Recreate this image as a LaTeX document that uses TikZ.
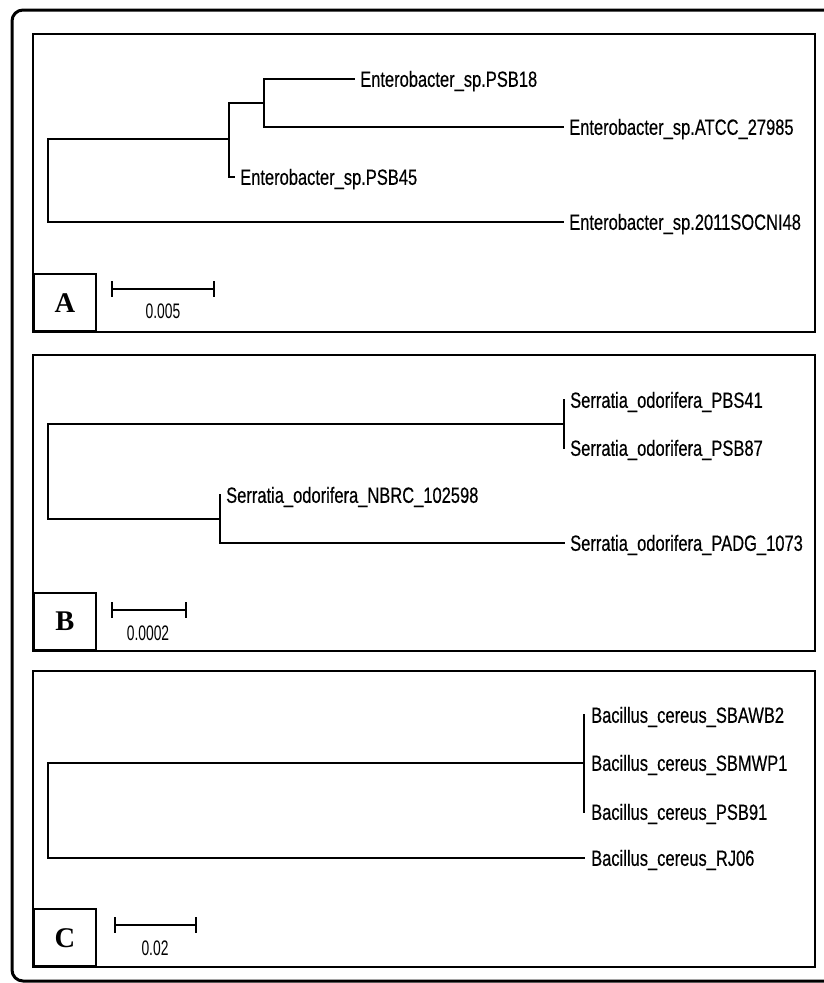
\documentclass[tikz,border=0pt]{standalone}
\usepackage{fontspec}
\newfontfamily\labfont[FakeStretch=0.75,FakeBold=0.4]{Liberation Sans}
\newfontfamily\barfont[FakeStretch=0.66]{Liberation Sans}
\newfontfamily\panelfont{Liberation Serif}
\tikzset{
  branch/.style={line width=1.5pt, line cap=rect},
  leaf/.style={anchor=west, inner xsep=6pt, inner ysep=0pt, text height=15.6pt, text depth=0pt,
    font=\labfont\fontsize{22}{24}\selectfont},
  panelbox/.style={draw, line width=1.6pt},
  letterbox/.style={draw, line width=1.6pt, anchor=south west, minimum width=62pt, minimum height=57pt,
    inner sep=0pt, font=\panelfont\bfseries\fontsize{28.5}{30}\selectfont},
  scalebar/.style={line width=1.5pt},
  scalelab/.style={inner sep=0pt, font=\barfont\fontsize{21}{22}\selectfont}
}
\begin{document}
\begin{tikzpicture}[x=1pt,y=1pt]
\useasboundingbox (0,0) rectangle (824,-983);
% outer frame
\draw[line width=3pt, rounded corners=11pt] (12,-10) rectangle (850,-981);
% panels
\draw[panelbox] (33,-34) rectangle (815,-332);
\draw[panelbox] (33,-355) rectangle (815,-651);
\draw[panelbox] (33,-671) rectangle (815,-967);
\node[letterbox] (labA) at (33,-332) {A};
\node[letterbox] (labB) at (33,-651) {B};
\node[letterbox] (labC) at (33,-967) {C};

% ---------- Tree A ----------
\node[leaf] (a18) at (354,-79) {Enterobacter\_sp.PSB18};
\node[leaf] (a27985) at (563,-127) {Enterobacter\_sp.ATCC\_27985};
\node[leaf] (a45) at (234,-177) {Enterobacter\_sp.PSB45};
\node[leaf] (a2011) at (563,-222) {Enterobacter\_sp.2011SOCNI48};
\coordinate (A2) at (264,-103);
\coordinate (A1) at (229,-139);
\coordinate (A0) at (48,-180);
\draw[branch] (a18.west) -| (A2) |- (a27985.west);
\draw[branch] (A2) -| (A1) |- (a45.west);
\draw[branch] (A1) -| (A0) |- (a2011.west);
% scale A
\coordinate (sa1) at (112,-289);
\coordinate (sa2) at (214,-289);
\draw[scalebar] (sa1) -- (sa2);
\draw[scalebar] ([yshift=8pt]sa1) -- ([yshift=-8pt]sa1);
\draw[scalebar] ([yshift=8pt]sa2) -- ([yshift=-8pt]sa2);
\node[scalelab] (sla) at (163,-311) {0.005};

% ---------- Tree B ----------
\node[leaf] (b41) at (564,-400) {Serratia\_odorifera\_PBS41};
\node[leaf] (b87) at (564,-448) {Serratia\_odorifera\_PSB87};
\node[leaf] (b102) at (220,-495) {Serratia\_odorifera\_NBRC\_102598};
\node[leaf] (b1073) at (564,-543) {Serratia\_odorifera\_PADG\_1073};
\coordinate (B1) at (564,-424);
\coordinate (B0) at (48,-470);
\coordinate (B2) at (220,-519);
\draw[branch] (b41.west) -- (b87.west);
\draw[branch] (B1) -| (B0) |- (B2);
\draw[branch] (b102.west) |- (b1073.west);
% scale B
\coordinate (sb1) at (112,-610);
\coordinate (sb2) at (186,-610);
\draw[scalebar] (sb1) -- (sb2);
\draw[scalebar] ([yshift=8pt]sb1) -- ([yshift=-8pt]sb1);
\draw[scalebar] ([yshift=8pt]sb2) -- ([yshift=-8pt]sb2);
\node[scalelab] (slb) at (148,-633) {0.0002};

% ---------- Tree C ----------
\node[leaf, inner xsep=7pt] (cb2) at (584,-715) {Bacillus\_cereus\_SBAWB2};
\node[leaf, inner xsep=7pt] (cp1) at (584,-763) {Bacillus\_cereus\_SBMWP1};
\node[leaf, inner xsep=7pt] (c91) at (584,-812) {Bacillus\_cereus\_PSB91};
\node[leaf, inner xsep=7pt] (cr6) at (584,-858) {Bacillus\_cereus\_RJ06};
\coordinate (C0) at (48,-810);
\draw[branch] (cb2.west) -- (c91.west);
\draw[branch] (cp1.west) -| (C0) |- (cr6.west);
% scale C
\coordinate (sc1) at (115,-925);
\coordinate (sc2) at (196,-925);
\draw[scalebar] (sc1) -- (sc2);
\draw[scalebar] ([yshift=8pt]sc1) -- ([yshift=-8pt]sc1);
\draw[scalebar] ([yshift=8pt]sc2) -- ([yshift=-8pt]sc2);
\node[scalelab] (slc) at (155,-948) {0.02};
\end{tikzpicture}
\end{document}
